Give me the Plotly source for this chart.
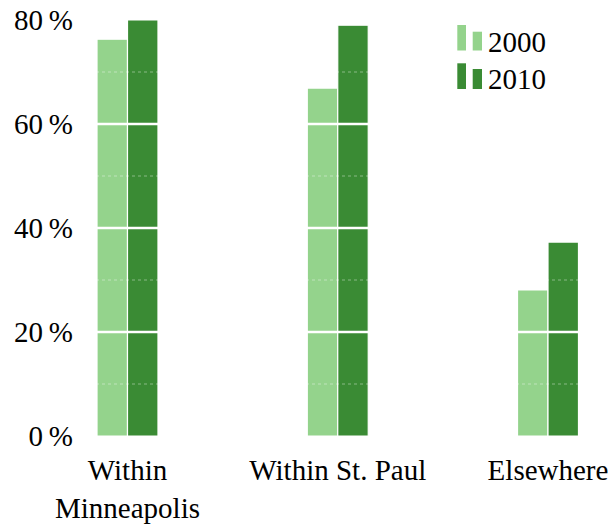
import plotly.graph_objects as go

categories = ["Within<br>Minneapolis", "Within St. Paul", "Elsewhere"]
years = ["2000", "2010"]
values_2000 = [76.3, 66.9, 28.1]
values_2010 = [80.0, 79.0, 37.3]
tick_vals = [0, 20, 40, 60, 80]
tick_text = ["0\u2009%", "20\u2009%", "40\u2009%", "60\u2009%", "80\u2009%"]
minor_vals = [10, 30, 50, 70]
major_vals = [20, 40, 60]

colors = ["#94d38c", "#3a8b34"]
FONT = "Liberation Serif"
FS = 29

W, H = 611, 529
L, R, T = 78, 0, 17
plot_bottom = 436
B = H - plot_bottom
pw, ph = W - L - R, H - T - B
px_per_cat = 210.25
cat0_px = 127.5
x_lo = (L - cat0_px) / px_per_cat
x_hi = (W - R - cat0_px) / px_per_cat
px_per_pct = 5.2
y_hi = ph / px_per_pct

fig = go.Figure()
for yr, vals, col in zip(years, [values_2000, values_2010], colors):
    fig.add_trace(go.Bar(
        x=categories, y=vals, name=yr,
        marker=dict(color=col, line=dict(color="white", width=1.2)),
        showlegend=False,
    ))

shapes = []
for v in major_vals:
    shapes.append(dict(type="line", xref="paper", yref="y", x0=0, x1=1, y0=v, y1=v,
                       line=dict(color="white", width=2.5), layer="above"))
for v in minor_vals:
    shapes.append(dict(type="line", xref="paper", yref="y", x0=0, x1=1, y0=v, y1=v,
                       line=dict(color="rgba(255,255,255,0.4)", width=1, dash="dot"), layer="above"))

def px(xp):
    return (xp - L) / pw

def py(yp):
    return (plot_bottom - yp) / ph

# legend (pgfplots style swatches), positions in page pixels
legend_rows = [(25, 31.7, 50.5, 41.5), (63.3, 69, 89, 79)]
annotations = []
for (tall_top, short_top, bottom, mid), col, yr in zip(legend_rows, colors, years):
    shapes.append(dict(type="rect", xref="paper", yref="paper",
                       x0=px(457.3), x1=px(466), y0=py(bottom), y1=py(tall_top),
                       fillcolor=col, line=dict(width=0), layer="above"))
    shapes.append(dict(type="rect", xref="paper", yref="paper",
                       x0=px(472.7), x1=px(482), y0=py(bottom), y1=py(short_top),
                       fillcolor=col, line=dict(width=0), layer="above"))
    annotations.append(dict(text=yr, xref="paper", yref="paper", x=px(486), y=py(mid),
                            xanchor="left", yanchor="middle", showarrow=False,
                            font=dict(size=FS, color="black", family=FONT)))

fig.update_layout(
    width=W, height=H,
    margin=dict(l=L, r=R, t=T, b=B, autoexpand=False),
    paper_bgcolor="white", plot_bgcolor="white",
    barmode="group", bargap=0.71, bargroupgap=0.0,
    font=dict(family=FONT, size=FS, color="black"),
    shapes=shapes, annotations=annotations,
    xaxis=dict(range=[x_lo, x_hi], showgrid=False, zeroline=False, showline=False,
               ticks="", automargin=False, ticklabelstandoff=14,
               ticklabeloverflow="allow",
               tickfont=dict(size=FS, family=FONT)),
    yaxis=dict(range=[0, y_hi], tickvals=tick_vals, ticktext=tick_text,
               showgrid=False, zeroline=False, showline=False, ticks="",
               automargin=False, ticklabelstandoff=4, ticklabeloverflow="allow",
               tickfont=dict(size=FS, family=FONT)),
)

fig.write_html("out.html",
               config={"displayModeBar": False},
               post_script="document.body.style.margin='0';document.body.style.overflow='hidden';")
